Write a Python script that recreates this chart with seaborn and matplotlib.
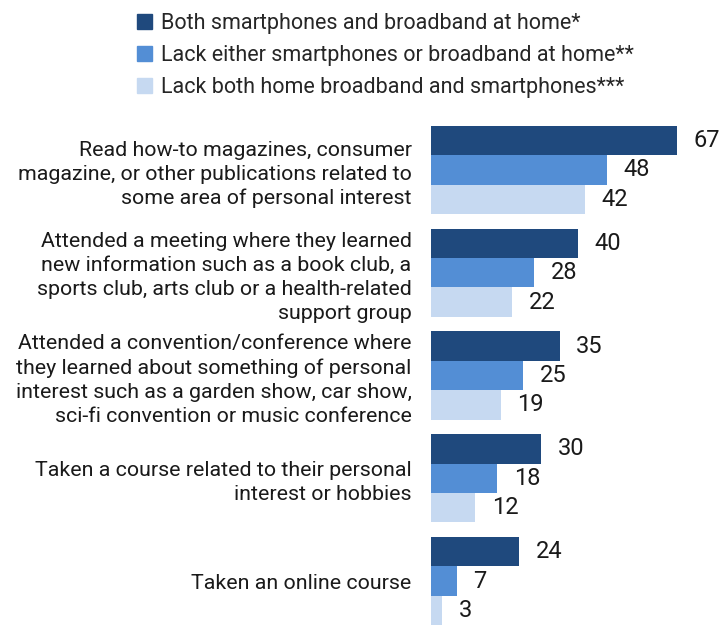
import matplotlib
matplotlib.use("Agg")
import matplotlib.pyplot as plt
import seaborn as sns
import pandas as pd

activities = [
    "Read how-to magazines, consumer\nmagazine, or other publications related to\nsome area of personal interest",
    "Attended a meeting where they learned\nnew information such as a book club, a\nsports club, arts club or a health-related\nsupport group",
    "Attended a convention/conference where\nthey learned about something of personal\ninterest such as a garden show, car show,\nsci-fi convention or music conference",
    "Taken a course related to their personal\ninterest or hobbies",
    "Taken an online course",
]
groups = [
    "Both smartphones and broadband at home*",
    "Lack either smartphones or broadband at home**",
    "Lack both home broadband and smartphones***",
]
both_access = [67, 40, 35, 30, 24]
lack_either = [48, 28, 25, 18, 7]
lack_both = [42, 22, 19, 12, 3]
colors = ["#1f497d", "#538ed5", "#c6d9f1"]

df = pd.DataFrame({
    "activity": activities * 3,
    "group": [g for g in groups for _ in activities],
    "pct": both_access + lack_either + lack_both,
})

sns.set_theme(style="white")
plt.rcParams["font.family"] = ["Roboto", "DejaVu Sans"]

fig = plt.figure(figsize=(7.24, 6.25), dpi=100)
ax = fig.add_axes([431 / 724, 0.0, 257 / 724, 506.4 / 625])

sns.barplot(data=df, y="activity", x="pct", hue="group", orient="h",
            palette=colors, width=0.86, ax=ax, legend=False,
            saturation=1, linewidth=0)

ax.set_xlim(0, 70)
ax.set_ylim(4.428, -0.5)
ax.set_xlabel("")
ax.set_ylabel("")
ax.set_xticks([])
for s in ax.spines.values():
    s.set_visible(False)
ax.tick_params(axis="y", length=0, pad=14)
for lbl in ax.get_yticklabels():
    lbl.set_fontsize(15.4)
    lbl.set_color("#1a1a1a")
    lbl.set_horizontalalignment("right")
    lbl.set_linespacing(1.33)

for container in ax.containers:
    ax.bar_label(container, fmt="%d", padding=12, fontsize=17, color="#1a1a1a")

handles = [plt.Rectangle((0, 0), 1, 1, color=c) for c in colors]
fig.legend(handles, groups, loc="upper left", bbox_to_anchor=(124 / 724, 1.0),
           frameon=False, fontsize=15.5, handlelength=0.72, handleheight=0.72,
           handletextpad=0.4, labelspacing=0.52, borderaxespad=0.2)

fig.savefig("out.png", dpi=100)
